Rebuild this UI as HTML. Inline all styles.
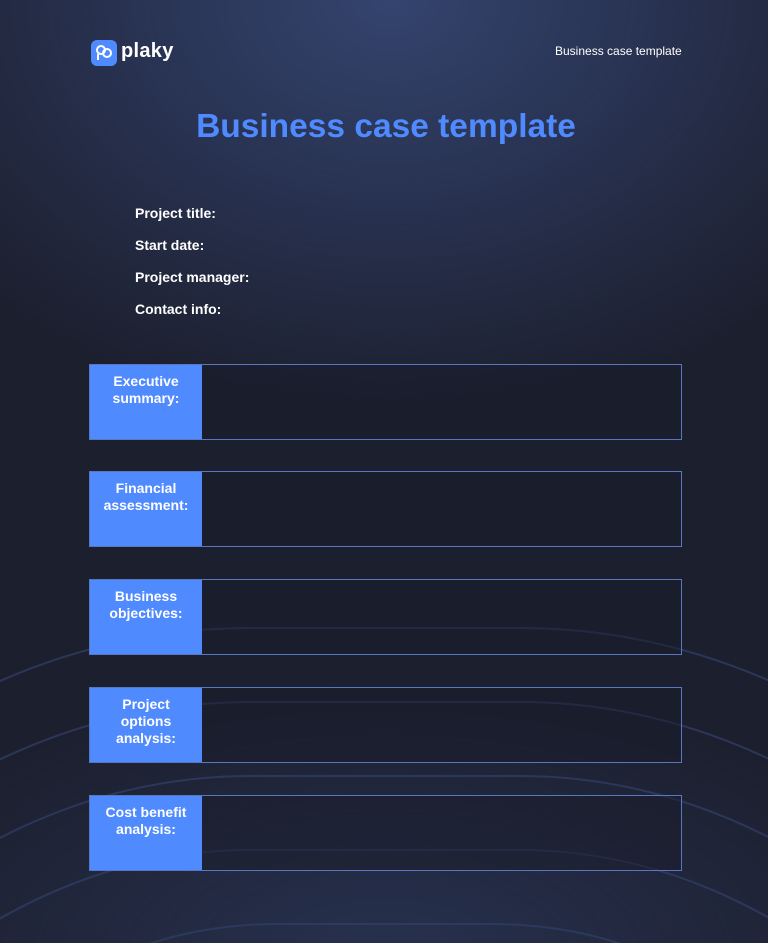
<!DOCTYPE html>
<html><head><meta charset="utf-8">
<style>
html,body{margin:0;padding:0}
body{width:768px;height:943px;position:relative;overflow:hidden;font-family:"Liberation Sans",sans-serif;
background:
radial-gradient(ellipse 560px 420px at 390px 0px,#34446e 0%,#2a3556 40%,rgba(28,32,48,0) 100%),
radial-gradient(ellipse 560px 280px at 384px 960px,#27314f 0%,rgba(28,32,48,0) 100%),
#1c1f2e;}
.abs{position:absolute}
.logo{left:91px;top:40px;width:26px;height:26px;background:#4f8aff;border-radius:6px}
.brand{left:121px;top:40px;color:#fff;font-size:20px;font-weight:bold;letter-spacing:0.3px}
.hdr{left:555px;top:44px;color:#fff;font-size:12px}
.title{left:0;width:768px;top:108px;text-align:center;color:#4f8aff;font-size:33.5px;font-weight:bold;padding-left:2px}
.f{left:135px;color:#fff;font-size:14px;font-weight:bold}
.box{left:89px;width:591px;height:74px;border:1px solid #5877bf;background:rgba(24,27,41,0.45)}
.lab{position:absolute;left:0;top:0;width:112px;height:74px;background:#4f8aff;color:#fff;font-weight:bold;font-size:14px;text-align:center;line-height:17px;padding-top:8px;box-sizing:border-box}
</style></head><body>
<svg class="abs" style="left:0;top:0" width="768" height="943">
<g fill="none" stroke="#2f3d63" stroke-width="2" opacity="0.8">
<path d="M-40,700 Q100,628 250,628 L520,628 Q670,628 810,700"/>
<path d="M-40,780 Q100,702 250,702 L520,702 Q670,702 810,780"/>
<path d="M-40,860 Q100,776 250,776 L520,776 Q670,776 810,860"/>
<path d="M-40,943 Q100,850 250,850 L520,850 Q670,850 810,943"/>
<path d="M60,990 Q150,924 280,924 L490,924 Q620,924 710,990"/>
</g></svg>
<div class="abs logo"><svg width="26" height="26"><g fill="none" stroke="#fff" stroke-width="2"><circle cx="10" cy="10" r="4"/><circle cx="16" cy="13" r="4"/><path d="M7 14v6"/></g></svg></div>
<div class="abs brand">plaky</div>
<div class="abs hdr">Business case template</div>
<div class="abs title">Business case template</div>
<div class="abs f" style="top:205px">Project title:</div>
<div class="abs f" style="top:237px">Start date:</div>
<div class="abs f" style="top:269px">Project manager:</div>
<div class="abs f" style="top:301px">Contact info:</div>
<div class="abs box" style="top:364px"><div class="lab">Executive<br>summary:</div></div>
<div class="abs box" style="top:471px"><div class="lab">Financial<br>assessment:</div></div>
<div class="abs box" style="top:579px"><div class="lab">Business<br>objectives:</div></div>
<div class="abs box" style="top:687px"><div class="lab">Project<br>options<br>analysis:</div></div>
<div class="abs box" style="top:795px"><div class="lab">Cost benefit<br>analysis:</div></div>
</body></html>
